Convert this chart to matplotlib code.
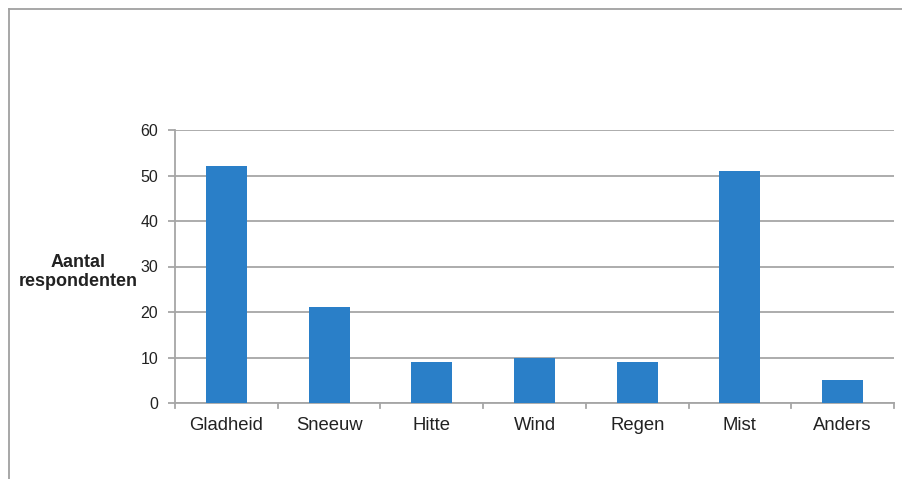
import matplotlib
matplotlib.use("Agg")
import matplotlib.pyplot as plt
from matplotlib.lines import Line2D

categories = ["Gladheid", "Sneeuw", "Hitte", "Wind", "Regen", "Mist", "Anders"]
respondents = [52, 21, 9, 10, 9, 51, 5]
y_ticks = [0, 10, 20, 30, 40, 50, 60]

plt.rcParams["font.family"] = ["Liberation Sans", "DejaVu Sans"]

W, H = 903, 479
fig = plt.figure(figsize=(W / 100, H / 100), dpi=100)

grid_col = "#a6a6a6"
bar_col = "#2a7fc8"
text_col = "#222222"

# outer chart-area border (top and left edges visible)
fig.add_artist(Line2D([9 / W, 1.0], [1 - 9 / H, 1 - 9 / H], transform=fig.transFigure,
                      color="#a0a0a0", lw=1.3))
fig.add_artist(Line2D([9 / W, 9 / W], [0.0, 1 - 9 / H], transform=fig.transFigure,
                      color="#a0a0a0", lw=1.3))

ax = fig.add_axes([175 / W, 1 - 403 / H, (894 - 175) / W, (403 - 130) / H])
x = list(range(len(categories)))
ax.bar(x, respondents, width=0.4, color=bar_col, zorder=3)

ax.set_xlim(-0.5, len(categories) - 0.5)
ax.set_ylim(0, 60)
ax.set_yticks(y_ticks)
ax.set_yticklabels([str(v) for v in y_ticks], fontsize=11.5, color=text_col)
ax.set_xticks(x)
ax.set_xticklabels(categories, fontsize=13.3, color=text_col)
ax.tick_params(axis="x", length=0, pad=10)
ax.tick_params(axis="y", length=5, width=1.3, color=grid_col, pad=7)

# category separators on the x axis
for b in [i - 0.5 for i in range(len(categories) + 1)]:
    ax.plot([b, b], [0, -1], color=grid_col, lw=1.3, clip_on=False, zorder=4)

ax.grid(axis="y", color=grid_col, lw=1.3, zorder=0)
for s in ["top", "right"]:
    ax.spines[s].set_visible(False)
for s in ["left", "bottom"]:
    ax.spines[s].set_color(grid_col)
    ax.spines[s].set_linewidth(1.3)

fig.text(78 / W, 1 - 272 / H, "Aantal\nrespondenten", ha="center", va="center",
         fontsize=13, fontweight="bold", color=text_col, linespacing=1.1)

fig.savefig("out.png", dpi=100)
